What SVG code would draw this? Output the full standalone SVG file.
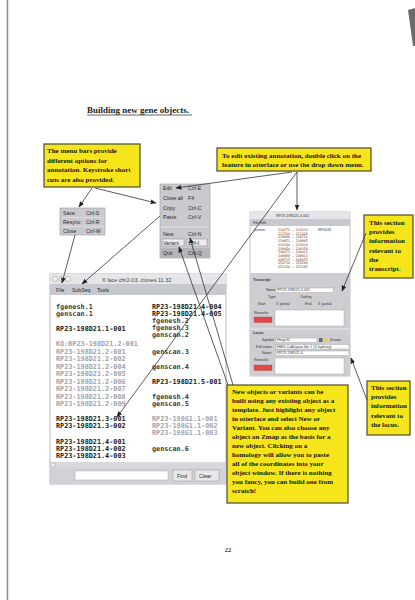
<svg xmlns="http://www.w3.org/2000/svg" width="415" height="600" viewBox="0 0 415 600">
<style>
.cap{font-family:"Liberation Serif",serif;font-weight:bold;font-size:7px;fill:#151515}
.ybox{fill:#f6e51a;stroke:#5a5638;stroke-width:1.3}
.menu{fill:#c9c9ce;stroke:#9a9aa0;stroke-width:0.6}
.mi{font-family:"Liberation Sans",sans-serif;font-size:5.2px;fill:#2a2a2a}
.li{font-family:"DejaVu Sans Mono",monospace;font-weight:bold;font-size:6.8px;fill:#1a1a1a}
.lg{font-family:"DejaVu Sans Mono",monospace;font-weight:bold;font-size:6.8px;fill:#a2a2ac}
.ld{font-family:"DejaVu Sans Mono",monospace;font-weight:bold;font-size:6.8px;fill:#3a3a3a}
.tiny{font-family:"Liberation Sans",sans-serif;font-size:3.6px;fill:#333}
.tn{font-family:"DejaVu Sans Mono",monospace;font-size:3.3px;fill:#444}
.fld{fill:#fff;stroke:#999;stroke-width:0.4}
.con{stroke:#333;stroke-width:0.8;fill:none;marker-end:url(#ah)}
</style>
<defs>
<marker id="ah" viewBox="0 0 10 10" refX="9" refY="5" markerWidth="6" markerHeight="6" orient="auto" markerUnits="userSpaceOnUse">
<path d="M0,1 L10,5 L0,9 z" fill="#222"/>
</marker>
</defs>
<rect width="415" height="600" fill="#fff"/>
<line x1="7.5" y1="0" x2="7.5" y2="600" stroke="#8a8a8a" stroke-width="1.5"/>
<polygon points="408,10 415,8 415,46 413,46" fill="#6a6a6a"/>

<g id="title">
<text x="87" y="113" font-family="Liberation Serif, serif" font-weight="bold" font-size="9" fill="#222">Building new gene objects.</text>
<line x1="87" y1="115" x2="192" y2="115" stroke="#222" stroke-width="0.7"/>
</g>

<g id="lace-window">
<rect x="50" y="274" width="176" height="210" fill="#fff" stroke="#9a9aa0" stroke-width="0.7"/>
<rect x="50" y="274" width="176" height="10" fill="#e6e6e8"/>
<circle cx="55" cy="279" r="2.6" fill="#f2f2f2" stroke="#999" stroke-width="0.5"/>
<circle cx="61.5" cy="279" r="2.6" fill="#f2f2f2" stroke="#999" stroke-width="0.5"/>
<circle cx="68" cy="279" r="2.6" fill="#f2f2f2" stroke="#999" stroke-width="0.5"/>
<text x="102" y="281.5" font-family="Liberation Sans, sans-serif" font-size="5.5" fill="#444">X  lace chr2-03. clones 11.32</text>
<rect x="50" y="284" width="176" height="11" fill="#c8c8d0"/>
<text x="56" y="292" class="mi">File</text>
<text x="72" y="292" class="mi">SubSeq</text>
<text x="97" y="292" class="mi">Tools</text>
<text x="56" y="309" class="ld">fgenesh.1</text>
<text x="56" y="316" class="ld">genscan.1</text>
<text x="56" y="331" class="li">RP23-198D21.1-001</text>
<text x="56" y="346" class="lg">KO:RP23-198D21.2-001</text>
<text x="56" y="353.5" class="lg">RP23-198D21.2-001</text>
<text x="56" y="361" class="lg">RP23-198D21.2-002</text>
<text x="56" y="368.5" class="lg">RP23-198D21.2-004</text>
<text x="56" y="376" class="lg">RP23-198D21.2-005</text>
<text x="56" y="383.5" class="lg">RP23-198D21.2-006</text>
<text x="56" y="391" class="lg">RP23-198D21.2-007</text>
<text x="56" y="398.5" class="lg">RP23-198D21.2-008</text>
<text x="56" y="406" class="lg">RP23-198D21.2-009</text>
<text x="56" y="421" class="li">RP23-198D21.3-001</text>
<text x="56" y="428" class="li">RP23-198D21.3-002</text>
<text x="56" y="444" class="li">RP23-198D21.4-001</text>
<text x="56" y="451" class="li">RP23-198D21.4-002</text>
<text x="56" y="458" class="li">RP23-198D21.4-003</text>
<text x="152" y="309" class="li">RP23-198D21.4-004</text>
<text x="152" y="316" class="li">RP23-198D21.4-005</text>
<text x="152" y="323" class="ld">fgenesh.2</text>
<text x="152" y="330" class="ld">fgenesh.3</text>
<text x="152" y="337" class="ld">genscan.2</text>
<text x="152" y="353.5" class="ld">genscan.3</text>
<text x="152" y="368.5" class="ld">genscan.4</text>
<text x="152" y="384" class="li">RP23-198D21.5-001</text>
<text x="152" y="398.5" class="ld">fgenesh.4</text>
<text x="152" y="405.5" class="ld">genscan.5</text>
<text x="152" y="421" class="lg">RP23-198G1.1-001</text>
<text x="152" y="428" class="lg">RP23-198G1.1-002</text>
<text x="152" y="435" class="lg">RP23-198G1.1-003</text>
<text x="152" y="451" class="ld">genscan.6</text>
<rect x="50" y="462" width="176" height="6" fill="#d8d8dc"/>
<rect x="51" y="463" width="4" height="4" fill="#eee" stroke="#999" stroke-width="0.4"/>
<rect x="50" y="468" width="176" height="16" fill="#d2d2d6"/>
<rect x="75" y="471" width="93" height="9" class="fld"/>
<rect x="173" y="470" width="19" height="11" fill="#e8e8ea" stroke="#999" stroke-width="0.5"/>
<text x="177" y="477.5" class="mi">Find</text>
<rect x="195" y="470" width="24" height="11" fill="#e8e8ea" stroke="#999" stroke-width="0.5"/>
<text x="199" y="477.5" class="mi">Clear</text>
</g>

<g id="file-menu">
<rect x="60" y="208" width="45" height="27" class="menu"/>
<line x1="61" y1="217.5" x2="104" y2="217.5" stroke="#eee" stroke-width="0.6"/>
<line x1="61" y1="226.5" x2="104" y2="226.5" stroke="#eee" stroke-width="0.6"/>
<text x="63" y="215" class="mi">Save</text><text x="86" y="215" class="mi">Ctrl-S</text>
<text x="63" y="224" class="mi">Resync</text><text x="86" y="224" class="mi">Ctrl-R</text>
<text x="63" y="233" class="mi">Close</text><text x="86" y="233" class="mi">Ctrl-W</text>
</g>

<g id="edit-menu">
<rect x="160" y="184" width="50" height="74" class="menu"/>
<line x1="161" y1="227" x2="209" y2="227" stroke="#eee" stroke-width="0.8"/>
<rect x="162" y="239" width="22" height="7" fill="#ececf0" stroke="#777" stroke-width="0.4"/>
<rect x="187" y="239" width="20" height="7" fill="#ececf0" stroke="#777" stroke-width="0.4"/>
<rect x="160" y="248" width="50" height="10" fill="#b4b4ba"/>
<text x="163" y="190" class="mi">Edit</text><text x="188" y="190" class="mi">Ctrl-E</text>
<text x="163" y="200" class="mi">Close all</text><text x="188" y="200" class="mi">F4</text>
<text x="163" y="209.5" class="mi">Copy</text><text x="188" y="209.5" class="mi">Ctrl-C</text>
<text x="163" y="218.5" class="mi">Paste</text><text x="188" y="218.5" class="mi">Ctrl-V</text>
<text x="163" y="236" class="mi">New</text><text x="188" y="236" class="mi">Ctrl-N</text>
<text x="163" y="245" class="mi">Variant</text><text x="188" y="245" class="mi">Ctrl-I</text>
<text x="163" y="255" class="mi">Quit</text><text x="188" y="255" class="mi">Ctrl-Q</text>
</g>

<g id="transcript-window">
<rect x="250" y="212" width="100" height="164" fill="#fff" stroke="#9a9aa0" stroke-width="0.6"/>
<rect x="250" y="212" width="100" height="7" fill="#e6e6e8"/>
<text x="276" y="217.3" class="tiny">RP23-198D21.4-001</text>
<rect x="250" y="219" width="100" height="7" fill="#c8c8d0"/>
<text x="253" y="224.3" class="tiny">File  Edit</text>
<text x="254" y="231" class="tiny">protein</text>
<text x="318" y="231" class="tiny">NP0533</text>
<g class="tn">
<text x="278" y="231" fill="#444">210273 — 210133</text>
<text x="278" y="234.7" fill="#444">211500 — 211428</text>
<text x="278" y="238.4" fill="#444">228890 — 228756</text>
<text x="278" y="242.1" fill="#444">229851 — 229805</text>
<text x="278" y="245.8" fill="#444">232140 — 232034</text>
<text x="278" y="249.5" fill="#444">238450 — 238358</text>
<text x="278" y="253.2" fill="#444">240072 — 240011</text>
<text x="278" y="256.9" fill="#444">248988 — 248912</text>
<text x="278" y="260.6" fill="#444">249715 — 249655</text>
<text x="278" y="264.3" fill="#444">250710 — 250590</text>
<text x="278" y="268" fill="#444">251320 — 251245</text>
</g>
<rect x="250" y="273" width="100" height="103" fill="#cdcdd2"/>
<line x1="250" y1="329" x2="350" y2="329" stroke="#f2f2f2" stroke-width="0.8"/>
<text x="253" y="281" class="tiny" font-weight="bold">Transcript</text>
<text x="266" y="291" class="tiny">Name</text>
<rect x="276" y="288" width="57" height="4.5" class="fld"/>
<text x="277" y="291.3" class="tiny">RP23-198D21.4-001</text>
<text x="268" y="297.5" class="tiny">Type</text>
<text x="300" y="297.5" class="tiny">Coding</text>
<text x="258" y="304.5" class="tiny">Start</text>
<text x="276" y="304.5" class="tiny">5' partial</text>
<text x="305" y="304.5" class="tiny">End</text>
<text x="318" y="304.5" class="tiny">3' partial</text>
<text x="254" y="314" class="tiny">Remarks</text>
<rect x="254" y="317" width="18" height="5.5" fill="#e04a4a" stroke="#a33" stroke-width="0.3"/>
<rect x="275" y="310" width="69" height="16" class="fld"/>
<text x="253" y="334" class="tiny" font-weight="bold">Locus</text>
<text x="262" y="341" class="tiny">Symbol</text>
<rect x="276" y="338" width="41" height="4.5" class="fld"/>
<text x="277" y="341.3" class="tiny">Hmgcll1</text>
<rect x="319" y="338" width="3.5" height="4" fill="#666"/>
<circle cx="326" cy="340" r="1.8" fill="#f0d020"/>
<text x="330" y="341.3" class="tiny">Known</text>
<text x="256" y="347.5" class="tiny">Full name</text>
<rect x="276" y="344.5" width="73" height="4.5" class="fld"/>
<text x="277" y="347.8" class="tiny">HMG-CoA lyase-like 1 (3-hydroxy)</text>
<text x="262" y="354" class="tiny">Name</text>
<rect x="276" y="351" width="73" height="4.5" class="fld"/>
<text x="277" y="354.3" class="tiny">RP23-198D21.4</text>
<text x="254" y="361" class="tiny">Remarks</text>
<rect x="254" y="365" width="18" height="5.5" fill="#e04a4a" stroke="#a33" stroke-width="0.3"/>
<rect x="275" y="358" width="69" height="16" class="fld"/>
</g>

<g id="note-menu-bars">
<rect x="44" y="144" width="96" height="43" class="ybox"/>
<text x="47" y="153" class="cap">The menu bars provide</text>
<text x="47" y="162.5" class="cap">different options for</text>
<text x="47" y="172" class="cap">annotation. Keystroke short</text>
<text x="47" y="181.5" class="cap">cuts are also provided.</text>
</g>

<g id="note-edit">
<rect x="217" y="148" width="154" height="23" class="ybox"/>
<text x="222" y="158" class="cap" font-size="6.6">To edit existing annotation, double click on the</text>
<text x="222" y="167" class="cap" font-size="6.6">feature in otterlace or use the drop down menu.</text>
</g>

<g id="note-transcript">
<rect x="364" y="215" width="49" height="63" class="ybox"/>
<text x="369" y="225" class="cap">This section</text>
<text x="369" y="234.2" class="cap">provides</text>
<text x="369" y="243.4" class="cap">information</text>
<text x="369" y="252.6" class="cap">relevant to</text>
<text x="369" y="261.8" class="cap">the</text>
<text x="369" y="271" class="cap">transcript.</text>
</g>

<g id="note-locus">
<rect x="367" y="381" width="43" height="54" class="ybox"/>
<text x="371" y="390" class="cap">This section</text>
<text x="371" y="399.2" class="cap">provides</text>
<text x="371" y="408.4" class="cap">information</text>
<text x="371" y="417.6" class="cap">relevant to</text>
<text x="371" y="426.8" class="cap">the locus.</text>
</g>

<g id="note-new-objects">
<rect x="227" y="385" width="121" height="118" class="ybox"/>
<g class="cap" font-size="6.7">
<text x="232" y="394">New objects or variants can be</text>
<text x="232" y="403">built using any existing object as a</text>
<text x="232" y="412">template. Just highlight any object</text>
<text x="232" y="421">in otterlace and select New or</text>
<text x="232" y="430">Variant. You can also choose any</text>
<text x="232" y="439">object on Zmap as the basis for a</text>
<text x="232" y="448">new object. Clicking on a</text>
<text x="232" y="457">homology will allow you to paste</text>
<text x="232" y="466">all of the coordinates into your</text>
<text x="232" y="475">object window. If there is nothing</text>
<text x="232" y="484">you fancy, you can build one from</text>
<text x="232" y="493">scratch!</text>
</g>
</g>

<g id="page-number">
<text x="228" y="552" text-anchor="middle" font-family="Liberation Serif, serif" font-weight="bold" font-size="6.5" fill="#333">22</text>
</g>

<g id="connectors">
<line class="con" x1="92" y1="188" x2="79" y2="207"/>
<line class="con" x1="95" y1="188" x2="156" y2="203"/>
<line class="con" x1="75" y1="235" x2="62" y2="283"/>
<line class="con" x1="160" y1="216" x2="82" y2="284"/>
<line class="con" x1="292" y1="172" x2="176" y2="188"/>
<line class="con" x1="297" y1="172" x2="297" y2="210"/>
<line class="con" x1="297" y1="172" x2="117" y2="417"/>
<line class="con" x1="228" y1="385" x2="179" y2="247"/>
<line class="con" x1="233" y1="385" x2="190" y2="238"/>
<line class="con" x1="366" y1="233" x2="342" y2="291"/>
<line class="con" x1="367" y1="400" x2="351" y2="358"/>
</g>
</svg>
